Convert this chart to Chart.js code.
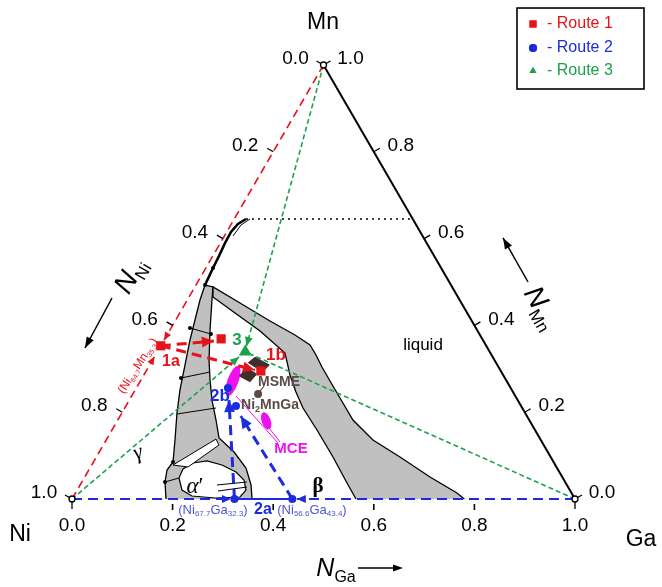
<!DOCTYPE html>
<html><head><meta charset="utf-8">
<script src="https://cdn.jsdelivr.net/npm/chart.js@4.4.1/dist/chart.umd.min.js"></script>
<style>html,body{margin:0;padding:0;background:#fff;}canvas{display:block;}</style>
</head><body>
<canvas id="c" width="662" height="587"></canvas>
<script>
// All compositions as [N_Ga, N_Mn]  (N_Ni = 1 - N_Ga - N_Mn)
const niTicks = [0.2, 0.4, 0.6, 0.8];
const mnTicks = [0.2, 0.4, 0.6, 0.8];
const gaTicks = [0.2, 0.4, 0.6, 0.8];
const niTickLabels = ['0.2', '0.4', '0.6', '0.8'];
const mnTickLabels = ['0.2', '0.4', '0.6', '0.8'];
const gaTickLabels = ['0.2', '0.4', '0.6', '0.8'];
const cornerLabels = ['0.0', '1.0'];

const leftBand = [[0.1869,0],[0.1653,0.0392],[0.1555,0.0668],[0.1582,0.0853],[0.1368,0.1359],[0.1096,0.1982],[0.0891,0.2512],[0.0703,0.3088],[0.0514,0.3664],[0.0383,0.4124],[0.0252,0.4585],[0.0179,0.4931],[0.0361,0.4885],[0.049,0.4585],[0.0797,0.3894],[0.1123,0.3203],[0.1373,0.2742],[0.1642,0.2281],[0.1953,0.182],[0.2219,0.1406],[0.268,0.1083],[0.3102,0.0714],[0.3398,0.0323],[0.3579,0]];
const rightBand = [[0.5646,0],[0.5283,0.0369],[0.4705,0.0968],[0.4076,0.159],[0.3544,0.2097],[0.322,0.2465],[0.2905,0.2857],[0.2553,0.3364],[0.1803,0.3871],[0.1098,0.4286],[0.0476,0.4654],[0.0361,0.4885],[0.1082,0.4516],[0.1885,0.4101],[0.2544,0.3779],[0.2958,0.3548],[0.3192,0.3318],[0.3449,0.3041],[0.377,0.2719],[0.4164,0.2327],[0.4676,0.182],[0.5304,0.1359],[0.6037,0.0968],[0.6864,0.0507],[0.7585,0.0138],[0.78,0]];
const alphaLens = [[0.1885,0.0484],[0.1861,0.0691],[0.1991,0.0829],[0.2246,0.0876],[0.259,0.0783],[0.2949,0.0622],[0.32,0.0438],[0.3355,0.0207],[0.3317,0.0046],[0.2831,0.0023],[0.2351,0.0069],[0.2083,0.0207],[0.1885,0.0484]];
const whiteSliver = [[0.1616,0.0783],[0.2172,0.1382],[0.23,0.1244],[0.1937,0.0737],[0.1616,0.0783]];
const tieLines = [
  [[0.0376,0.394],[0.0862,0.3802]],
  [[0.0773,0.2788],[0.1281,0.2926]],
  [[0.1108,0.1959],[0.1815,0.2097]],
  [[0.2722,0.0323],[0.3283,0.0392]],
  [[0.2811,0.0184],[0.3341,0.0276]],
  [[0.1653,0.0392],[0.1885,0.0484]]
];
const phaseDots = [[0.0376,0.394],[0.0862,0.3802],[0.0773,0.2788],[0.1582,0.0853],[0.1653,0.0392],[0.0179,0.4931],[0.0142,0.5323]];
const solvusCurve = [[0.0233,0.6452],[0.0132,0.6336],[0.0085,0.6152],[0.0093,0.5899],[0.0123,0.5599],[0.0142,0.5323],[0.0179,0.4931]];
const solvusCurveThin = [[0.0313,0.6452],[0.0203,0.6313],[0.0171,0.606]];
const liquidusLine = [[0.0233,0.6452],[0.3548,0.6452]];

const msmeUpper = [[0.1935,0.3141],[0.2005,0.3265],[0.2378,0.3088],[0.2324,0.2933],[0.1935,0.3141]];
const msmeLower = [[0.1909,0.2834],[0.1967,0.3012],[0.2232,0.288],[0.2188,0.2703],[0.1909,0.2834]];
const ni2MnGa = [[0.249,0.242]];
const ni2MnGaLink = [[0.249,0.242],[0.2515,0.2604]];
const mceCenters = [[0.184,0.272],[0.296,0.180]];
const mceLinks = [[[0.2074,0.2373],[0.345,0.129]],[[0.3099,0.1636],[0.348,0.1313]]];

const route1Points = [[0,0.353],[0.112,0.369],[0.228,0.295]];
const route1Arrows = [[[0,0.353],[0.100,0.364]],[[0,0.353],[0.215,0.297]]];
const niMnEdge = [[[0,0],[0,0.328]],[[0,1],[0,0.366]]];

const route2Points = [[0.323,0],[0.438,0],[0.182,0.256],[0.219,0.214]];
const route2Arrows = [[[0.323,0],[0.198,0.228]],[[0.438,0],[0.240,0.191]]];
const niGaEdge = [[[0,0],[0.316,0]],[[1,0],[0.447,0]]];
const route2Base = [[0.323,0],[0.438,0]];

const route3Point = [[0.175,0.339]];
const route3Lines = [[[0,0],[0.1684,0.3272]],[[0,1],[0.1707,0.3525]]];
const route3GaLine = [[1,0],[0.175,0.339]];
const mnGaEdge = [[0,1],[1,0]];

const GRAY='#c0c0c0', RED='#e5141b', BLUE='#1c2be0', GREEN='#19a34c', MAG='#ee11ee', BROWN='#3f2e2a';
const SANS='"Liberation Sans", Arial, sans-serif', SERIF='"Liberation Serif", "Times New Roman", serif';

const T = p => ({x: p[0] + p[1] / 2, y: p[1]});
let ord = 300;
const datasets = [];
function add(points, o) {
  datasets.push(Object.assign({data: points.map(T), showLine: true, pointRadius: 0, pointHoverRadius: 0,
    borderWidth: 1, borderColor: '#000', backgroundColor: 'transparent', fill: false, order: ord--}, o));
}
// phase diagram
add(leftBand, {polyFill: GRAY, borderWidth: 1.3});
add(rightBand, {polyFill: GRAY, borderWidth: 1.3});
add(alphaLens, {polyFill: '#ffffff', borderWidth: 1.2});
add(whiteSliver, {polyFill: '#ffffff', borderWidth: 1});
tieLines.forEach(l => add(l, {borderWidth: 1}));
add(solvusCurve, {borderWidth: 2.6});
add(solvusCurveThin, {borderWidth: 1});
add(liquidusLine, {borderWidth: 1.6, borderDash: [2, 4]});
add(phaseDots, {showLine: false, pointRadius: 2, backgroundColor: '#000', borderWidth: 0});
// triangle edges
add(mnGaEdge, {borderWidth: 2});
niMnEdge.forEach(l => add(l, {borderColor: RED, borderWidth: 1.6, borderDash: [8, 5], arrow: {len: 8, w: 3.5, color: RED}}));
niGaEdge.forEach(l => add(l, {borderColor: BLUE, borderWidth: 2, borderDash: [10, 6], arrow: {len: 9, w: 4, color: BLUE}}));
add(route2Base, {borderColor: BLUE, borderWidth: 2.2});
// route 3 (green)
route3Lines.forEach(l => add(l, {borderColor: GREEN, borderWidth: 1.6, borderDash: [5, 3], arrow: {len: 9, w: 4, color: GREEN}}));
add(route3GaLine, {borderColor: GREEN, borderWidth: 1.6, borderDash: [5, 3]});
// MCE
mceLinks.forEach(l => add(l, {borderColor: MAG, borderWidth: 1}));
add([mceCenters[0]], {showLine: false, ellipse: {rx: 5.5, ry: 16, rot: 20, color: MAG}});
add([mceCenters[1]], {showLine: false, ellipse: {rx: 4.5, ry: 9, rot: -20, color: MAG}});
// MSME
add(msmeUpper, {polyFill: BROWN, borderColor: BROWN, borderWidth: 1});
add(msmeLower, {polyFill: BROWN, borderColor: BROWN, borderWidth: 1});
add(ni2MnGaLink, {borderColor: '#5b4a46', borderWidth: 1.2});
add(ni2MnGa, {showLine: false, pointRadius: 4, backgroundColor: '#5b4a46', borderWidth: 0});
// routes 1 & 2
route1Arrows.forEach(l => add(l, {borderColor: RED, borderWidth: 3, borderDash: [10, 6], arrow: {len: 12, w: 5.5, color: RED}}));
route2Arrows.forEach(l => add(l, {borderColor: BLUE, borderWidth: 3, borderDash: [10, 6], arrow: {len: 12, w: 5.5, color: BLUE}}));
add(route1Points, {showLine: false, pointStyle: 'rect', pointRadius: 6.5, backgroundColor: RED, borderWidth: 0});
add(route2Points, {showLine: false, pointStyle: 'circle', pointRadius: 4, backgroundColor: BLUE, borderWidth: 0});
add(route3Point, {showLine: false, pointStyle: 'triangle', pointRadius: 7.5, backgroundColor: GREEN, borderWidth: 0});

function arrowHead(ctx, x1, y1, x2, y2, a) {
  const dx = x2 - x1, dy = y2 - y1, L = Math.hypot(dx, dy) || 1;
  const ux = dx / L, uy = dy / L, bx = x2 - ux * a.len, by = y2 - uy * a.len;
  ctx.save(); ctx.setLineDash([]); ctx.fillStyle = a.color; ctx.beginPath();
  ctx.moveTo(x2, y2); ctx.lineTo(bx - uy * a.w, by + ux * a.w); ctx.lineTo(bx + uy * a.w, by - ux * a.w);
  ctx.closePath(); ctx.fill(); ctx.restore();
}
function rich(ctx, parts, x, y, size, color, opt = {}) {
  const fam = opt.family || SANS, rot = opt.rot || 0, align = opt.align || 'center';
  const fnt = k => (opt.bold ? 'bold ' : '') + (k === 'i' ? 'italic ' : '') + (k === 's' ? Math.round(size * 0.62) : size) + 'px ' + fam;
  ctx.save(); ctx.translate(x, y); ctx.rotate(rot * Math.PI / 180);
  let w = 0; parts.forEach(([t, k]) => { ctx.font = fnt(k); w += ctx.measureText(t).width; });
  let cx = align === 'center' ? -w / 2 : (align === 'right' ? -w : 0);
  ctx.fillStyle = color; ctx.textBaseline = 'middle'; ctx.textAlign = 'left';
  parts.forEach(([t, k]) => { ctx.font = fnt(k); ctx.fillText(t, cx, k === 's' ? size * 0.33 : 0); cx += ctx.measureText(t).width; });
  ctx.restore();
}

const plug = {
  id: 'tern',
  beforeDatasetDraw(chart, {index, meta}) {
    const ds = chart.data.datasets[index];
    if (!ds.polyFill) return;
    const ctx = chart.ctx;
    ctx.save(); ctx.beginPath();
    meta.data.forEach((p, i) => i ? ctx.lineTo(p.x, p.y) : ctx.moveTo(p.x, p.y));
    ctx.closePath(); ctx.fillStyle = ds.polyFill; ctx.fill(); ctx.restore();
  },
  afterDatasetDraw(chart, {index, meta}) {
    const ds = chart.data.datasets[index], ctx = chart.ctx;
    if (ds.arrow) {
      const n = meta.data.length, a = meta.data[n - 2], b = meta.data[n - 1];
      arrowHead(ctx, a.x, a.y, b.x, b.y, ds.arrow);
    }
    if (ds.ellipse) {
      const p = meta.data[0], e = ds.ellipse;
      ctx.save(); ctx.translate(p.x, p.y); ctx.rotate(e.rot * Math.PI / 180);
      ctx.beginPath(); ctx.ellipse(0, 0, e.rx, e.ry, 0, 0, 2 * Math.PI); ctx.fillStyle = e.color; ctx.fill(); ctx.restore();
    }
  },
  afterDraw(chart) {
    const ctx = chart.ctx, xs = chart.scales.x, ys = chart.scales.y;
    const P = (X, Y) => [xs.getPixelForValue(X), ys.getPixelForValue(Y)];
    const PT = (ga, mn) => P(ga + mn / 2, mn);
    const seg = (x1, y1, x2, y2, w = 1.3, c = '#000') => { ctx.save(); ctx.strokeStyle = c; ctx.lineWidth = w; ctx.beginPath(); ctx.moveTo(x1, y1); ctx.lineTo(x2, y2); ctx.stroke(); ctx.restore(); };
    const tfont = 19;
    // ticks
    niTicks.forEach((v, i) => { const [x, y] = PT(0, 1 - v); seg(x, y, x - 6, y - 3.5); rich(ctx, [[niTickLabels[i], 'n']], x - 28, y - 6, tfont, '#000'); });
    mnTicks.forEach((v, i) => { const [x, y] = PT(1 - v, v); seg(x, y, x + 6, y - 3.5); rich(ctx, [[mnTickLabels[i], 'n']], x + 27, y - 6, tfont, '#000'); });
    gaTicks.forEach((v, i) => { const [x, y] = PT(v, 0); seg(x, y + 5, x, y + 11, 1.6); rich(ctx, [[gaTickLabels[i], 'n']], x, y + 27, tfont, '#000'); });
    // corners
    const [nx, ny] = PT(0, 0), [gx, gy] = PT(1, 0), [mx, my] = PT(0, 1);
    seg(nx, ny, nx - 7, ny - 4); seg(nx, ny, nx, ny + 10);
    seg(gx, gy, gx + 7, gy - 4); seg(gx, gy, gx, gy + 10);
    seg(mx, my, mx - 7, my - 4); seg(mx, my, mx + 7, my - 4);
    [[nx, ny], [gx, gy], [mx, my]].forEach(([x, y]) => { ctx.save(); ctx.beginPath(); ctx.arc(x, y, 3, 0, 2 * Math.PI); ctx.fillStyle = '#fff'; ctx.fill(); ctx.lineWidth = 1.3; ctx.strokeStyle = '#000'; ctx.stroke(); ctx.restore(); });
    rich(ctx, [[cornerLabels[1], 'n']], nx - 28, ny - 6, tfont, '#000');
    rich(ctx, [[cornerLabels[0], 'n']], nx, ny + 27, tfont, '#000');
    rich(ctx, [[cornerLabels[1], 'n']], gx, gy + 27, tfont, '#000');
    rich(ctx, [[cornerLabels[0], 'n']], gx + 27, gy - 6, tfont, '#000');
    rich(ctx, [[cornerLabels[0], 'n']], mx - 28, my - 6, tfont, '#000');
    rich(ctx, [[cornerLabels[1], 'n']], mx + 27, my - 6, tfont, '#000');
    // vertex names
    let p;
    p = P(0.499, 1.0968); rich(ctx, [['Mn', 'n']], p[0], p[1], 23, '#000');
    p = P(-0.1034, -0.0829); rich(ctx, [['Ni', 'n']], p[0], p[1], 23, '#000');
    p = P(1.1312, -0.0945); rich(ctx, [['Ga', 'n']], p[0], p[1], 23, '#000');
    // axis titles
    p = P(0.5249, -0.1613); rich(ctx, [['N', 'i'], ['Ga', 's']], p[0], p[1], 25, '#000');
    let a = P(0.5686, -0.159), b = P(0.658, -0.159); seg(a[0], a[1], b[0] - 6, b[1], 1.5); arrowHead(ctx, a[0], a[1], b[0], b[1], {len: 10, w: 3.5, color: '#000'});
    p = P(0.1173, 0.5138); rich(ctx, [['N', 'i'], ['Ni', 's']], p[0], p[1], 28, '#000', {rot: -60});
    a = P(0.0795, 0.4631); b = P(0.0258, 0.3479); seg(a[0], a[1], b[0], b[1], 1.5); arrowHead(ctx, a[0], a[1], b[0], b[1], {len: 11, w: 4, color: '#000'});
    p = P(0.9324, 0.4401); rich(ctx, [['N', 'i'], ['Mn', 's']], p[0], p[1], 28, '#000', {rot: 60});
    a = P(0.9066, 0.5); b = P(0.8569, 0.6014); seg(a[0], a[1], b[0], b[1], 1.5); arrowHead(ctx, a[0], a[1], b[0], b[1], {len: 11, w: 4, color: '#000'});
    // phase labels
    p = P(0.6978, 0.3548); rich(ctx, [['liquid', 'n']], p[0], p[1], 17, '#000');
    p = P(0.4891, 0.0276); rich(ctx, [['β', 'n']], p[0], p[1], 21, '#000', {family: SERIF, bold: true});
    p = P(0.2445, 0.0276); rich(ctx, [['α', 'i'], ['′', 'n']], p[0], p[1], 23, '#000', {family: SERIF});
    p = P(0.1312, 0.106); rich(ctx, [['γ', 'i']], p[0], p[1], 22, '#000', {family: SERIF, rot: -20});
    // route labels
    p = P(0.1968, 0.3157); rich(ctx, [['1a', 'n']], p[0], p[1], 16, RED, {bold: true});
    p = P(0.4056, 0.3318); rich(ctx, [['1b', 'n']], p[0], p[1], 17, RED, {bold: true});
    p = P(0.328, 0.3664); rich(ctx, [['3', 'n']], p[0], p[1], 17, GREEN, {bold: true});
    p = P(0.2942, 0.2373); rich(ctx, [['2b', 'n']], p[0], p[1], 17, BLUE, {bold: true});
    p = P(0.3797, -0.0253); rich(ctx, [['2a', 'n']], p[0], p[1], 16, BLUE, {bold: true});
    p = P(0.2803, -0.0253); rich(ctx, [['(Ni', 'n'], ['67.7', 's'], ['Ga', 'n'], ['32.3', 's'], [')', 'n']], p[0], p[1], 13, '#4a55cf');
    p = P(0.4771, -0.0253); rich(ctx, [['(Ni', 'n'], ['56.6', 's'], ['Ga', 'n'], ['43.4', 's'], [')', 'n']], p[0], p[1], 13, '#4a55cf');
    p = P(0.1312, 0.3065); rich(ctx, [['(Ni', 'n'], ['64.7', 's'], ['Mn', 'n'], ['35.3', 's'], [')', 'n']], p[0], p[1], 12, RED, {rot: -57});
    p = P(0.4115, 0.2696); rich(ctx, [['MSME', 'n']], p[0], p[1], 14, '#5b4a46', {bold: true});
    p = P(0.3936, 0.2166); rich(ctx, [['Ni', 'n'], ['2', 's'], ['MnGa', 'n']], p[0], p[1], 14, '#5b4a46', {bold: true});
    p = P(0.4354, 0.1152); rich(ctx, [['MCE', 'n']], p[0], p[1], 15, MAG, {bold: true});
    // legend
    const b1 = P(0.8847, 1.1313), b2 = P(1.1372, 0.9447);
    ctx.save(); ctx.fillStyle = '#fff'; ctx.fillRect(b1[0], b1[1], b2[0] - b1[0], b2[1] - b1[1]);
    ctx.lineWidth = 1.6; ctx.strokeStyle = '#000'; ctx.strokeRect(b1[0], b1[1], b2[0] - b1[0], b2[1] - b1[1]); ctx.restore();
    const items = [['rect', RED, '- Route 1', 1.0945], ['circle', BLUE, '- Route 2', 1.0392], ['triangle', GREEN, '- Route 3', 0.9862]];
    items.forEach(([st, c, t, Y]) => {
      const m = P(0.9165, Y);
      ctx.save(); ctx.fillStyle = c; ctx.strokeStyle = c;
      Chart.helpers.drawPoint(ctx, {pointStyle: st, radius: st === 'rect' ? 5 : 4, borderWidth: 0, rotation: 0}, m[0], m[1]);
      ctx.fill(); ctx.restore();
      const q = P(0.9444, Y); rich(ctx, [[t, 'n']], q[0], q[1], 16, c, {align: 'left'});
    });
  }
};

new Chart(document.getElementById('c'), {
  type: 'scatter',
  data: {datasets},
  options: {
    responsive: false, animation: false, devicePixelRatio: 1,
    layout: {padding: 0, autoPadding: false},
    events: [],
    plugins: {legend: {display: false}, tooltip: {enabled: false}},
    scales: {
      x: {type: 'linear', min: -72 / 503, max: 590 / 503, display: false},
      y: {type: 'linear', min: -88 / 434, max: 499 / 434, display: false}
    }
  },
  plugins: [plug]
});
</script>
</body></html>
